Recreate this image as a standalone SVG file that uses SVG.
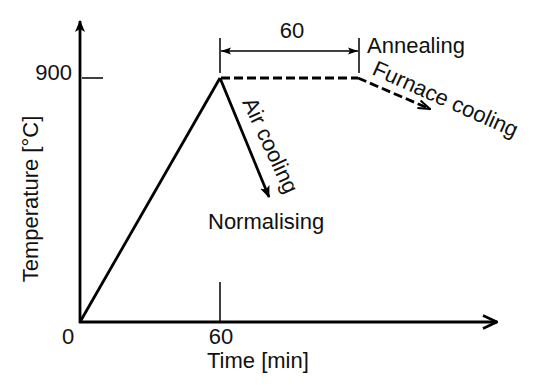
<svg xmlns="http://www.w3.org/2000/svg" width="550" height="385" viewBox="0 0 550 385">
<style>
text{font-family:"Liberation Sans",Arial,sans-serif;font-size:22px;fill:#111}
.thick{stroke:#000;stroke-width:2.8;fill:none}
.thin{stroke:#000;stroke-width:1.5;fill:none}
.dash{stroke:#000;stroke-width:2.8;fill:none;stroke-dasharray:9 4}
</style>
<defs>
<marker id="tri" viewBox="0 0 12 10" refX="11" refY="5" markerWidth="12" markerHeight="10" markerUnits="userSpaceOnUse" orient="auto">
<path d="M0,0 L12,5 L0,10 L3,5 Z" fill="#000"/>
</marker>
<marker id="chev" viewBox="0 0 16 16" refX="15" refY="8" markerWidth="16" markerHeight="16" markerUnits="userSpaceOnUse" orient="auto">
<path d="M1,1.5 L15,8 L1,14.5" fill="none" stroke="#000" stroke-width="2.6"/>
</marker>
<marker id="small" viewBox="0 0 10 8" refX="10" refY="4" markerWidth="10" markerHeight="8" markerUnits="userSpaceOnUse" orient="auto-start-reverse">
<path d="M0,0.5 L10,4 L0,7.5 L2,4 Z" fill="#000"/>
</marker>
<marker id="fchev" viewBox="0 0 14 10" refX="13" refY="5" markerWidth="14" markerHeight="10" markerUnits="userSpaceOnUse" orient="auto">
<path d="M1,1 L13,5 L1,9" fill="none" stroke="#000" stroke-width="2"/>
</marker>
</defs>
<g id="axes">
<line class="thick" x1="80" y1="323" x2="80" y2="21" marker-end="url(#tri)"/>
<line class="thick" x1="79" y1="322" x2="497" y2="322" marker-end="url(#chev)"/>
<line class="thin" x1="82" y1="78" x2="103" y2="78"/>
<line class="thin" x1="220" y1="282" x2="220" y2="321"/>
<text x="72" y="80" text-anchor="end">900</text>
<text x="68" y="344" text-anchor="middle" font-size="21">0</text>
<text x="221" y="344" text-anchor="middle" font-size="21">60</text>
<text x="207" y="368">Time [min]</text>
<text transform="translate(38,199) rotate(-90)" text-anchor="middle">Temperature [°C]</text>
</g>
<g id="connectors">
<polyline class="thick" points="80,322 220,78"/>
<line class="dash" x1="221" y1="78" x2="358" y2="78"/>
<line class="thick" x1="220" y1="78" x2="269" y2="197" marker-end="url(#tri)"/>
<line class="dash" x1="358" y1="78" x2="430" y2="109" marker-end="url(#fchev)"/>
</g>
<g id="dimension">
<line class="thin" x1="220" y1="38" x2="220" y2="73"/>
<line class="thin" x1="359" y1="38" x2="359" y2="73"/>
<line class="thin" x1="221" y1="51" x2="358" y2="51" marker-start="url(#small)" marker-end="url(#small)"/>
<text x="292" y="38" text-anchor="middle">60</text>
</g>
<g id="labels">
<text x="367" y="53">Annealing</text>
<text x="208" y="229">Normalising</text>
<text transform="translate(242,102) rotate(65)">Air cooling</text>
<text transform="translate(371,74) rotate(24)">Furnace cooling</text>
</g>
</svg>
